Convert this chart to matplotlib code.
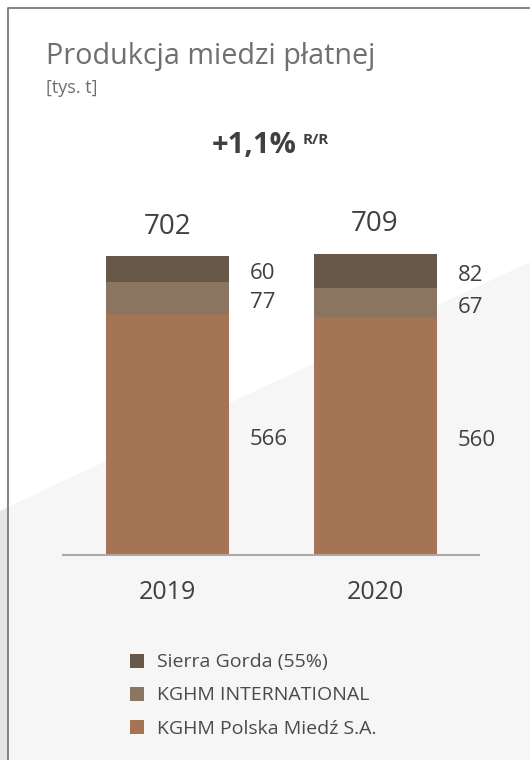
import matplotlib
matplotlib.use("Agg")
import matplotlib.pyplot as plt
from matplotlib.patches import Polygon, Rectangle

plt.rcParams["font.family"] = ["Open Sans", "DejaVu Sans"]

# ── Data ─────────────────────────────────────────────────────────────────────
years = ["2019", "2020"]
series_names = ["KGHM Polska Miedź S.A.", "KGHM INTERNATIONAL", "Sierra Gorda (55%)"]
kghm_pm = [566, 560]
kghm_int = [77, 67]
sierra = [60, 82]
totals = [702, 709]
change_label = "+1,1%"
change_suffix = "R/R"

# ── Colors ───────────────────────────────────────────────────────────────────
C_COPPER = "#a57455"
C_MID = "#8a7560"
C_DARK = "#675849"
C_TEXT = "#404040"
C_TITLE = "#6f6f6f"
C_BG = "#f6f6f6"
C_SHADE = "#e6e6e6"
C_FRAME = "#7a7a7a"
C_BASE = "#aaaaaa"
colors = [C_COPPER, C_MID, C_DARK]

W, H = 530, 760
fig = plt.figure(figsize=(W / 100, H / 100), dpi=100, facecolor="white")

# ── Background layer in pixel coordinates ────────────────────────────────────
bg = fig.add_axes([0, 0, 1, 1], zorder=0)
bg.set_xlim(0, W)
bg.set_ylim(H, 0)
bg.axis("off")
bg.add_patch(Polygon([(8, 507), (W, 262), (W, H), (8, H)], closed=True,
                     facecolor=C_BG, edgecolor="none"))
bg.add_patch(Polygon([(0, 511), (8, 507), (8, H), (0, H)], closed=True,
                     facecolor=C_SHADE, edgecolor="none"))
bg.plot([8, 8, W], [H, 8, 8], color=C_FRAME, lw=1.3, solid_capstyle="butt")

# Title
bg.text(46, 64, "Produkcja miedzi płatnej", fontsize=20.7, color=C_TITLE,
        ha="left", va="baseline")
bg.text(46, 93, "[tys. t]", fontsize=13, color=C_TITLE, ha="left", va="baseline")

bg.text(297, 153, change_label, fontsize=21, fontweight="bold", color=C_TEXT,
        ha="right", va="baseline")
bg.text(303, 144, change_suffix, fontsize=11, fontweight="bold", color=C_TEXT,
        ha="left", va="baseline")

# Legend (top to bottom: reversed stack order)
for i, (name, col) in enumerate(zip(series_names[::-1], colors[::-1])):
    yc = 660.5 + i * 33
    bg.add_patch(Rectangle((130, yc - 7), 14, 14, facecolor=col, edgecolor="none"))
    bg.text(157, yc, name, fontsize=14, color="#4a4a4a", ha="left", va="center_baseline")

# ── Chart axes ───────────────────────────────────────────────────────────────
ax = fig.add_axes([63 / W, (H - 555) / H, 416 / W, 355 / H], zorder=1)
ax.patch.set_alpha(0)
x = [0, 1]
bw = 0.593
ax.set_xlim(-0.504, 1.501)
ax.set_ylim(0, 835)

bottom = [0, 0]
for vals, col in zip([kghm_pm, kghm_int, sierra], colors):
    ax.bar(x, vals, bw, bottom=bottom, color=col, edgecolor="none", zorder=2)
    for xi, v, b in zip(x, vals, bottom):
        ax.annotate(f"{v}", (xi + bw / 2, b + v / 2), xytext=(15, -3.5),
                    textcoords="offset points", ha="left", va="center",
                    fontsize=16, color=C_TEXT)
    bottom = [b + v for b, v in zip(bottom, vals)]

for xi, t in zip(x, totals):
    ax.annotate(f"{t}", (xi, t), xytext=(0, 21.5), textcoords="offset points",
                ha="center", va="center", fontsize=20, color=C_TEXT)

for s in ["top", "right", "left"]:
    ax.spines[s].set_visible(False)
ax.spines["bottom"].set_color(C_BASE)
ax.spines["bottom"].set_linewidth(1.5)
ax.set_yticks([])
ax.set_xticks(x)
ax.set_xticklabels(years, fontsize=18, color=C_TEXT)
ax.tick_params(axis="x", length=0, pad=18)

fig.savefig("out.png", dpi=100, facecolor="white")
